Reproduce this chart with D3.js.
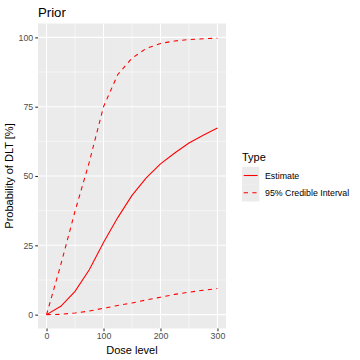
<!DOCTYPE html>
<html><head><meta charset="utf-8">
<script src="https://cdn.jsdelivr.net/npm/d3@7"></script>
<style>body{margin:0;background:#fff}svg{display:block;font-family:"Liberation Sans",Arial,sans-serif}</style>
</head><body><div id="chart"></div>
<script>
const doses = [0, 25, 50, 75, 100, 125, 150, 175, 200, 225, 250, 275, 300];
const estimate = [0, 3.0, 8.4, 16.2, 26.0, 35.0, 43.0, 49.3, 54.4, 58.3, 61.9, 64.7, 67.3];
const upper = [0, 18.0, 37.3, 55.0, 75.0, 86.6, 92.5, 96.0, 97.8, 98.7, 99.2, 99.5, 99.7];
const lower = [0, 0.1, 0.6, 1.3, 2.3, 3.3, 4.2, 5.3, 6.3, 7.3, 8.1, 8.8, 9.4];
const xTicks = [0, 100, 200, 300];
const yTicks = [0, 25, 50, 75, 100];
const legendLabels = ["Estimate", "95% Credible Interval"];

const W = 360, H = 360;
const svg = d3.select("#chart").append("svg").attr("width", W).attr("height", H);
const x = d3.scaleLinear().domain([-15, 315]).range([38, 226]);
const y = d3.scaleLinear().domain([-5, 105]).range([328.5, 23.5]);

svg.append("rect").attr("x", 38).attr("y", 23.5).attr("width", 188).attr("height", 305).attr("fill", "#EBEBEB");
const minorX = [50, 150, 250], minorY = [12.5, 37.5, 62.5, 87.5];
const g = svg.append("g");
g.selectAll(".mx").data(minorX).join("line").attr("x1", d => x(d)).attr("x2", d => x(d)).attr("y1", 23.5).attr("y2", 328.5).attr("stroke", "#fff").attr("stroke-width", 0.55);
g.selectAll(".my").data(minorY).join("line").attr("y1", d => y(d)).attr("y2", d => y(d)).attr("x1", 38).attr("x2", 226).attr("stroke", "#fff").attr("stroke-width", 0.55);
g.selectAll(".Mx").data(xTicks).join("line").attr("x1", d => x(d)).attr("x2", d => x(d)).attr("y1", 23.5).attr("y2", 328.5).attr("stroke", "#fff").attr("stroke-width", 1.1);
g.selectAll(".My").data(yTicks).join("line").attr("y1", d => y(d)).attr("y2", d => y(d)).attr("x1", 38).attr("x2", 226).attr("stroke", "#fff").attr("stroke-width", 1.1);

const xAxis = svg.append("g").attr("transform", "translate(0,328.5)")
  .call(d3.axisBottom(x).tickValues(xTicks).tickSize(2.75).tickPadding(2));
const yAxis = svg.append("g").attr("transform", "translate(38,0)")
  .call(d3.axisLeft(y).tickValues(yTicks).tickSize(2.75).tickPadding(2));
[xAxis, yAxis].forEach(a => {
  a.select(".domain").remove();
  a.selectAll("line").attr("stroke", "#333").attr("stroke-width", 1.1);
  a.selectAll("text").attr("fill", "#4D4D4D").attr("font-size", 8.8).attr("font-family", "Liberation Sans, Arial, sans-serif");
});

const line = d3.line().x((d, i) => x(doses[i])).y(d => y(d));
const plot = svg.append("g");
plot.append("path").attr("d", line(estimate)).attr("fill", "none").attr("stroke", "#FF0000").attr("stroke-width", 1.07);
[upper, lower].forEach(s => plot.append("path").attr("d", line(s)).attr("fill", "none")
  .attr("stroke", "#FF0000").attr("stroke-width", 1.07).attr("stroke-dasharray", "4.3,4.3"));

svg.append("text").attr("x", 38).attr("y", 17).attr("font-size", 13.2).attr("fill", "#000").text("Prior");
svg.append("text").attr("x", 132).attr("y", 354).attr("text-anchor", "middle").attr("font-size", 11).attr("fill", "#000").text("Dose level");
svg.append("text").attr("transform", "translate(13,176) rotate(-90)").attr("text-anchor", "middle").attr("font-size", 11).attr("fill", "#000").text("Probability of DLT [%]");

const leg = svg.append("g");
leg.append("text").attr("x", 242).attr("y", 161).attr("font-size", 11).attr("fill", "#000").text("Type");
legendLabels.forEach((lab, i) => {
  const cy = 175.5 + i * 17.3;
  leg.append("rect").attr("x", 242).attr("y", cy - 8.65).attr("width", 17.3).attr("height", 17.3).attr("fill", "#EBEBEB");
  leg.append("line").attr("x1", 243.7).attr("x2", 257.6).attr("y1", cy).attr("y2", cy).attr("stroke", "#FF0000").attr("stroke-width", 1.07)
    .attr("stroke-dasharray", i === 1 ? "4.3,4.3" : null);
  leg.append("text").attr("x", 265).attr("y", cy + 3.1).attr("font-size", 8.8).attr("fill", "#000").text(lab);
});
</script></body></html>
